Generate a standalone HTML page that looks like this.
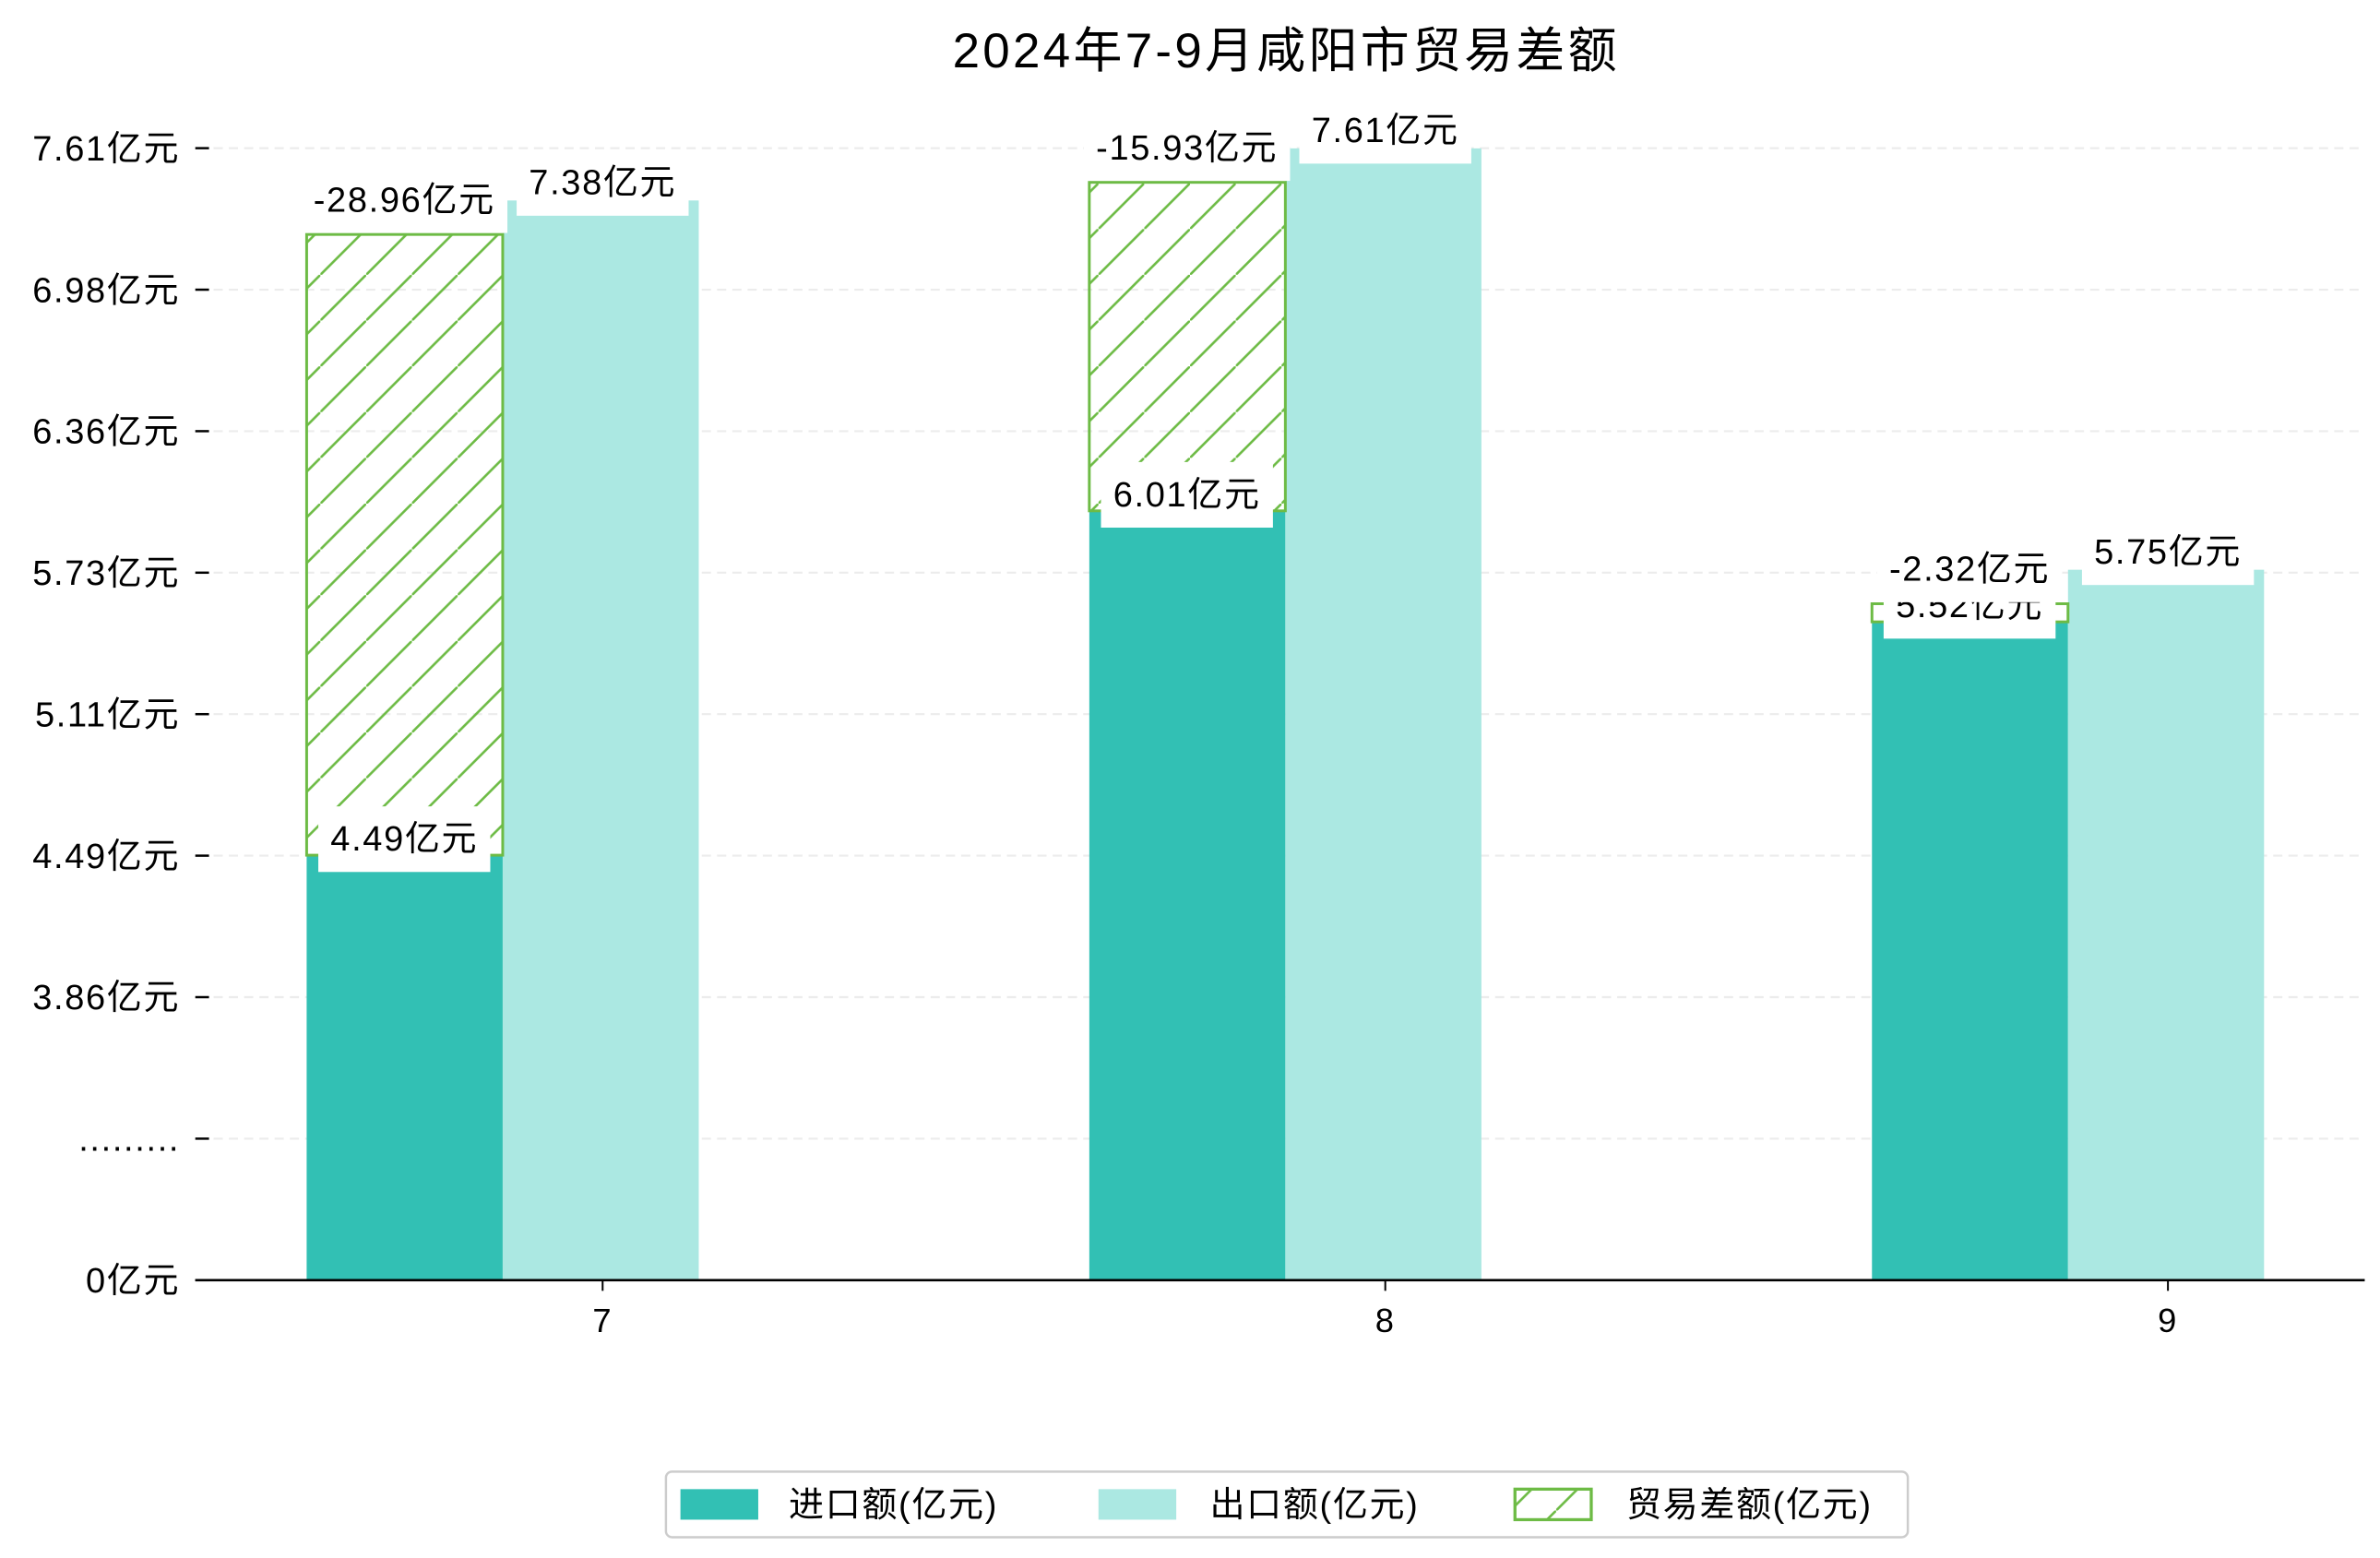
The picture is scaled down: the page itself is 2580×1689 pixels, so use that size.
<!DOCTYPE html>
<html><head><meta charset="utf-8">
<style>
html,body{margin:0;padding:0;background:#fff;}
svg{display:block;}
text{font-family:"WenQuanYi Zen Hei","Liberation Sans","Noto Sans CJK SC",sans-serif;fill:#000;letter-spacing:1px;}
</style></head>
<body>
<svg id="chart" width="2580" height="1689" viewBox="0 0 1560 1021" xmlns="http://www.w3.org/2000/svg">
<defs>
<pattern id="hatch" patternUnits="userSpaceOnUse" width="30" height="30">
<line x1="-5" y1="35" x2="35" y2="-5" stroke="#6dbb45" stroke-width="1.6"/>
</pattern>
</defs>
<rect width="1560" height="1021" fill="#fff"/>
<text x="843" y="44" font-size="32" text-anchor="middle" style="letter-spacing:2px">2024年7-9月咸阳市贸易差额</text>
<g id="grid"></g>
<g id="bars"></g>
<g id="labels"></g>
<g id="axes"></g>
<g>
<rect x="436.5" y="964.5" width="814" height="43" rx="4" fill="#fff" stroke="#cccccc" stroke-width="1.5"/>
<rect x="446" y="976" width="51" height="20" fill="#32c0b4"/>
<text x="517" y="994" font-size="23">进口额(亿元)</text>
<rect x="720" y="976" width="51" height="20" fill="#abe8e2"/>
<text x="793" y="994" font-size="23">出口额(亿元)</text>
<rect x="993" y="976" width="50" height="20" fill="url(#hatch)" stroke="#6dbb45" stroke-width="2"/>
<text x="1066" y="994" font-size="23">贸易差额(亿元)</text>
</g>
</svg>
<script>
const months = ['7', '8', '9'];
const importVals = [4.49, 6.01, 5.52];
const exportVals = [7.38, 7.61, 5.75];
const balanceVals = [-28.96, -15.93, -2.32];
const yTickLabels = ['0亿元', '.........', '3.86亿元', '4.49亿元', '5.11亿元', '5.73亿元', '6.36亿元', '6.98亿元', '7.61亿元'];

const NS = 'http://www.w3.org/2000/svg';
const baseY = 839, y386 = 654, pxPer = 148.5, tickStep = 92.75;
const groupX0 = 395, groupStep = 513, barW = 128.5;
function yScale(v){ return y386 - (v - 3.86) * pxPer; }
function xCenter(i){ return groupX0 + i * groupStep; }
function mk(tag, attrs, parent){ const e = document.createElementNS(NS, tag); for (const k in attrs) e.setAttribute(k, attrs[k]); parent.appendChild(e); return e; }

const grid = document.getElementById('grid');
const axes = document.getElementById('axes');
yTickLabels.forEach((lab, i) => {
  const y = baseY - i * tickStep;
  if (i > 0) {
    const g = mk('line', {x1: 140, x2: 1550, y1: y, y2: y, stroke: '#ececec', 'stroke-width': 1.3, 'stroke-dasharray': '6,4'}, grid);
    
    
  }
  const t = mk('line', {x1: 128, x2: 137, y1: y, y2: y, stroke: '#000', 'stroke-width': 1.5}, axes);
  
  
  const tx = mk('text', {x: 118, y: y + 8, 'font-size': 23, 'text-anchor': 'end'}, axes);
  tx.textContent = lab;
  
  
});
const ax = mk('line', {x1: 128, x2: 1550, y1: baseY, y2: baseY, stroke: '#000', 'stroke-width': 1.6}, axes);



const bars = document.getElementById('bars');
const labels = document.getElementById('labels');
const labelQueue = [];
months.forEach((m, i) => {
  const cx = xCenter(i);
  const iy = yScale(importVals[i]);
  const ey = yScale(exportVals[i]);
  const b1 = mk('rect', {x: cx - 194, y: iy, width: barW, height: baseY - iy, fill: '#32c0b4'}, bars);
  
  
  const b2 = mk('rect', {x: cx - 65.5, y: ey, width: barW, height: baseY - ey, fill: '#abe8e2'}, bars);
  
  
  const hy = yScale(exportVals[i] - 0.15);
  const h = mk('rect', {x: cx - 194, y: hy, width: barW, height: iy - hy, fill: 'url(#hatch)', stroke: '#6dbb45', 'stroke-width': 1.8}, bars);
  
  
  labelQueue.push([0, cx - 130, iy - 11, importVals[i].toFixed(2) + '亿元', 'import-value-label-' + m]);
  labelQueue.push([1, cx, ey - 12, exportVals[i].toFixed(2) + '亿元', 'export-value-label-' + m]);
  labelQueue.push([2, cx - 130, hy - 23, balanceVals[i].toFixed(2) + '亿元', 'balance-value-label-' + m]);
  const xt = mk('line', {x1: cx, x2: cx, y1: baseY, y2: baseY + 7, stroke: '#000', 'stroke-width': 1.2}, axes);
  
  
  const xl = mk('text', {x: cx, y: baseY + 34, 'font-size': 22, 'text-anchor': 'middle'}, axes);
  xl.textContent = m;
  
  
});
labelQueue.sort((a, b) => a[0] - b[0]);
labelQueue.forEach(([k, x, y, s, name]) => {
  const g = mk('g', {}, labels);
  
  
  const r = mk('rect', {fill: '#fff'}, g);
  const t = mk('text', {x: x, y: y + 8, 'font-size': 23, 'text-anchor': 'middle'}, g);
  t.textContent = s;
  const bb = t.getBBox();
  r.setAttribute('x', bb.x - 8);
  r.setAttribute('width', bb.width + 16);
  r.setAttribute('y', y - 21);
  r.setAttribute('height', 43);
});
</script>
</body></html>
